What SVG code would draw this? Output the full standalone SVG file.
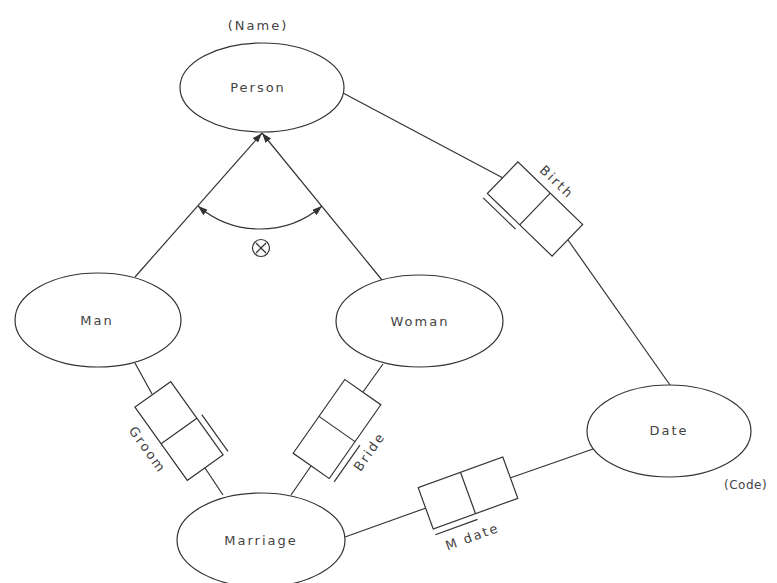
<svg xmlns="http://www.w3.org/2000/svg" width="777" height="583" viewBox="0 0 777 583">
<style>
.n{fill:#fff;stroke:#333;stroke-width:1.2}
.c{fill:none;stroke:#333;stroke-width:1.2}
.b{fill:#fff;stroke:#333;stroke-width:1.2}
text{font-family:"DejaVu Sans","Liberation Sans",sans-serif;font-size:13px;fill:#444;letter-spacing:2px}
.m{text-anchor:middle}
.s{letter-spacing:0.5px;font-size:12px}
</style>
<defs>
<marker id="ah" markerUnits="userSpaceOnUse" markerWidth="10" markerHeight="7" refX="10" refY="3.5" orient="auto-start-reverse">
<path d="M0,0 L10,3.5 L0,7 z" fill="#333"/>
</marker>
</defs>
<rect width="777" height="583" fill="#fff"/>
<g id="connectors">
<line class="c" x1="343" y1="93" x2="503" y2="178"/>
<line class="c" x1="568" y1="240" x2="670" y2="385"/>
<line class="c" x1="135" y1="363" x2="152" y2="394"/>
<line class="c" x1="205" y1="468" x2="223" y2="495"/>
<line class="c" x1="383" y1="364" x2="363" y2="392"/>
<line class="c" x1="311" y1="466" x2="291" y2="495"/>
<line class="c" x1="345" y1="537" x2="426" y2="508"/>
<line class="c" x1="510" y1="478" x2="593" y2="449"/>
<line class="c" x1="135" y1="277" x2="262" y2="133" marker-end="url(#ah)"/>
<line class="c" x1="382" y1="280" x2="262" y2="133" marker-end="url(#ah)"/>
<path class="c" d="M198,206 A95,95 0 0,0 322,206" marker-start="url(#ah)" marker-end="url(#ah)"/>
<g id="exclusive">
<circle class="c" cx="261" cy="248" r="8.5"/>
<line class="c" x1="256" y1="243" x2="266" y2="253"/>
<line class="c" x1="266" y1="243" x2="256" y2="253"/>
</g>
</g>
<g id="person">
<ellipse class="n" cx="262" cy="87.5" rx="82" ry="44.5"/>
<text class="m" x="258" y="92">Person</text>
<text class="m" x="258" y="30">(Name)</text>
</g>
<g id="man">
<ellipse class="n" cx="98" cy="320" rx="83" ry="47"/>
<text class="m" x="97" y="325">Man</text>
</g>
<g id="woman">
<ellipse class="n" cx="419.5" cy="321" rx="83.5" ry="46"/>
<text class="m" x="420" y="326">Woman</text>
</g>
<g id="date">
<ellipse class="n" cx="669" cy="431" rx="82" ry="46"/>
<text class="m" x="669" y="435">Date</text>
<text class="s" x="724" y="489">(Code)</text>
</g>
<g id="marriage">
<ellipse class="n" cx="261" cy="540" rx="84" ry="47"/>
<text class="m" x="261" y="545">Marriage</text>
</g>
<g id="birth" transform="translate(535,209) rotate(44)">
<rect class="b" x="-45" y="-22" width="90" height="44"/>
<line class="c" x1="0" y1="-22" x2="0" y2="22"/>
<line class="c" x1="-45" y1="28" x2="0" y2="28"/>
<text class="m" x="-3" y="-30">Birth</text>
</g>
<g id="groom" transform="translate(179,431) rotate(54.4)">
<rect class="b" x="-45" y="-22" width="90" height="44"/>
<line class="c" x1="0" y1="-22" x2="0" y2="22"/>
<line class="c" x1="0" y1="-28" x2="45" y2="-28"/>
<text class="m" x="-3" y="41">Groom</text>
</g>
<g id="bride" transform="translate(337,429) rotate(-55)">
<rect class="b" x="-45" y="-22" width="90" height="44"/>
<line class="c" x1="0" y1="-22" x2="0" y2="22"/>
<line class="c" x1="-45" y1="28" x2="0" y2="28"/>
<text class="m" x="0" y="44">Bride</text>
</g>
<g id="mdate" transform="translate(468,493) rotate(-20)">
<rect class="b" x="-45" y="-22" width="90" height="44"/>
<line class="c" x1="0" y1="-22" x2="0" y2="22"/>
<line class="c" x1="-45" y1="28" x2="0" y2="28"/>
<text y="47"><tspan x="-39">M</tspan><tspan x="-20">date</tspan></text>
</g>
</svg>
